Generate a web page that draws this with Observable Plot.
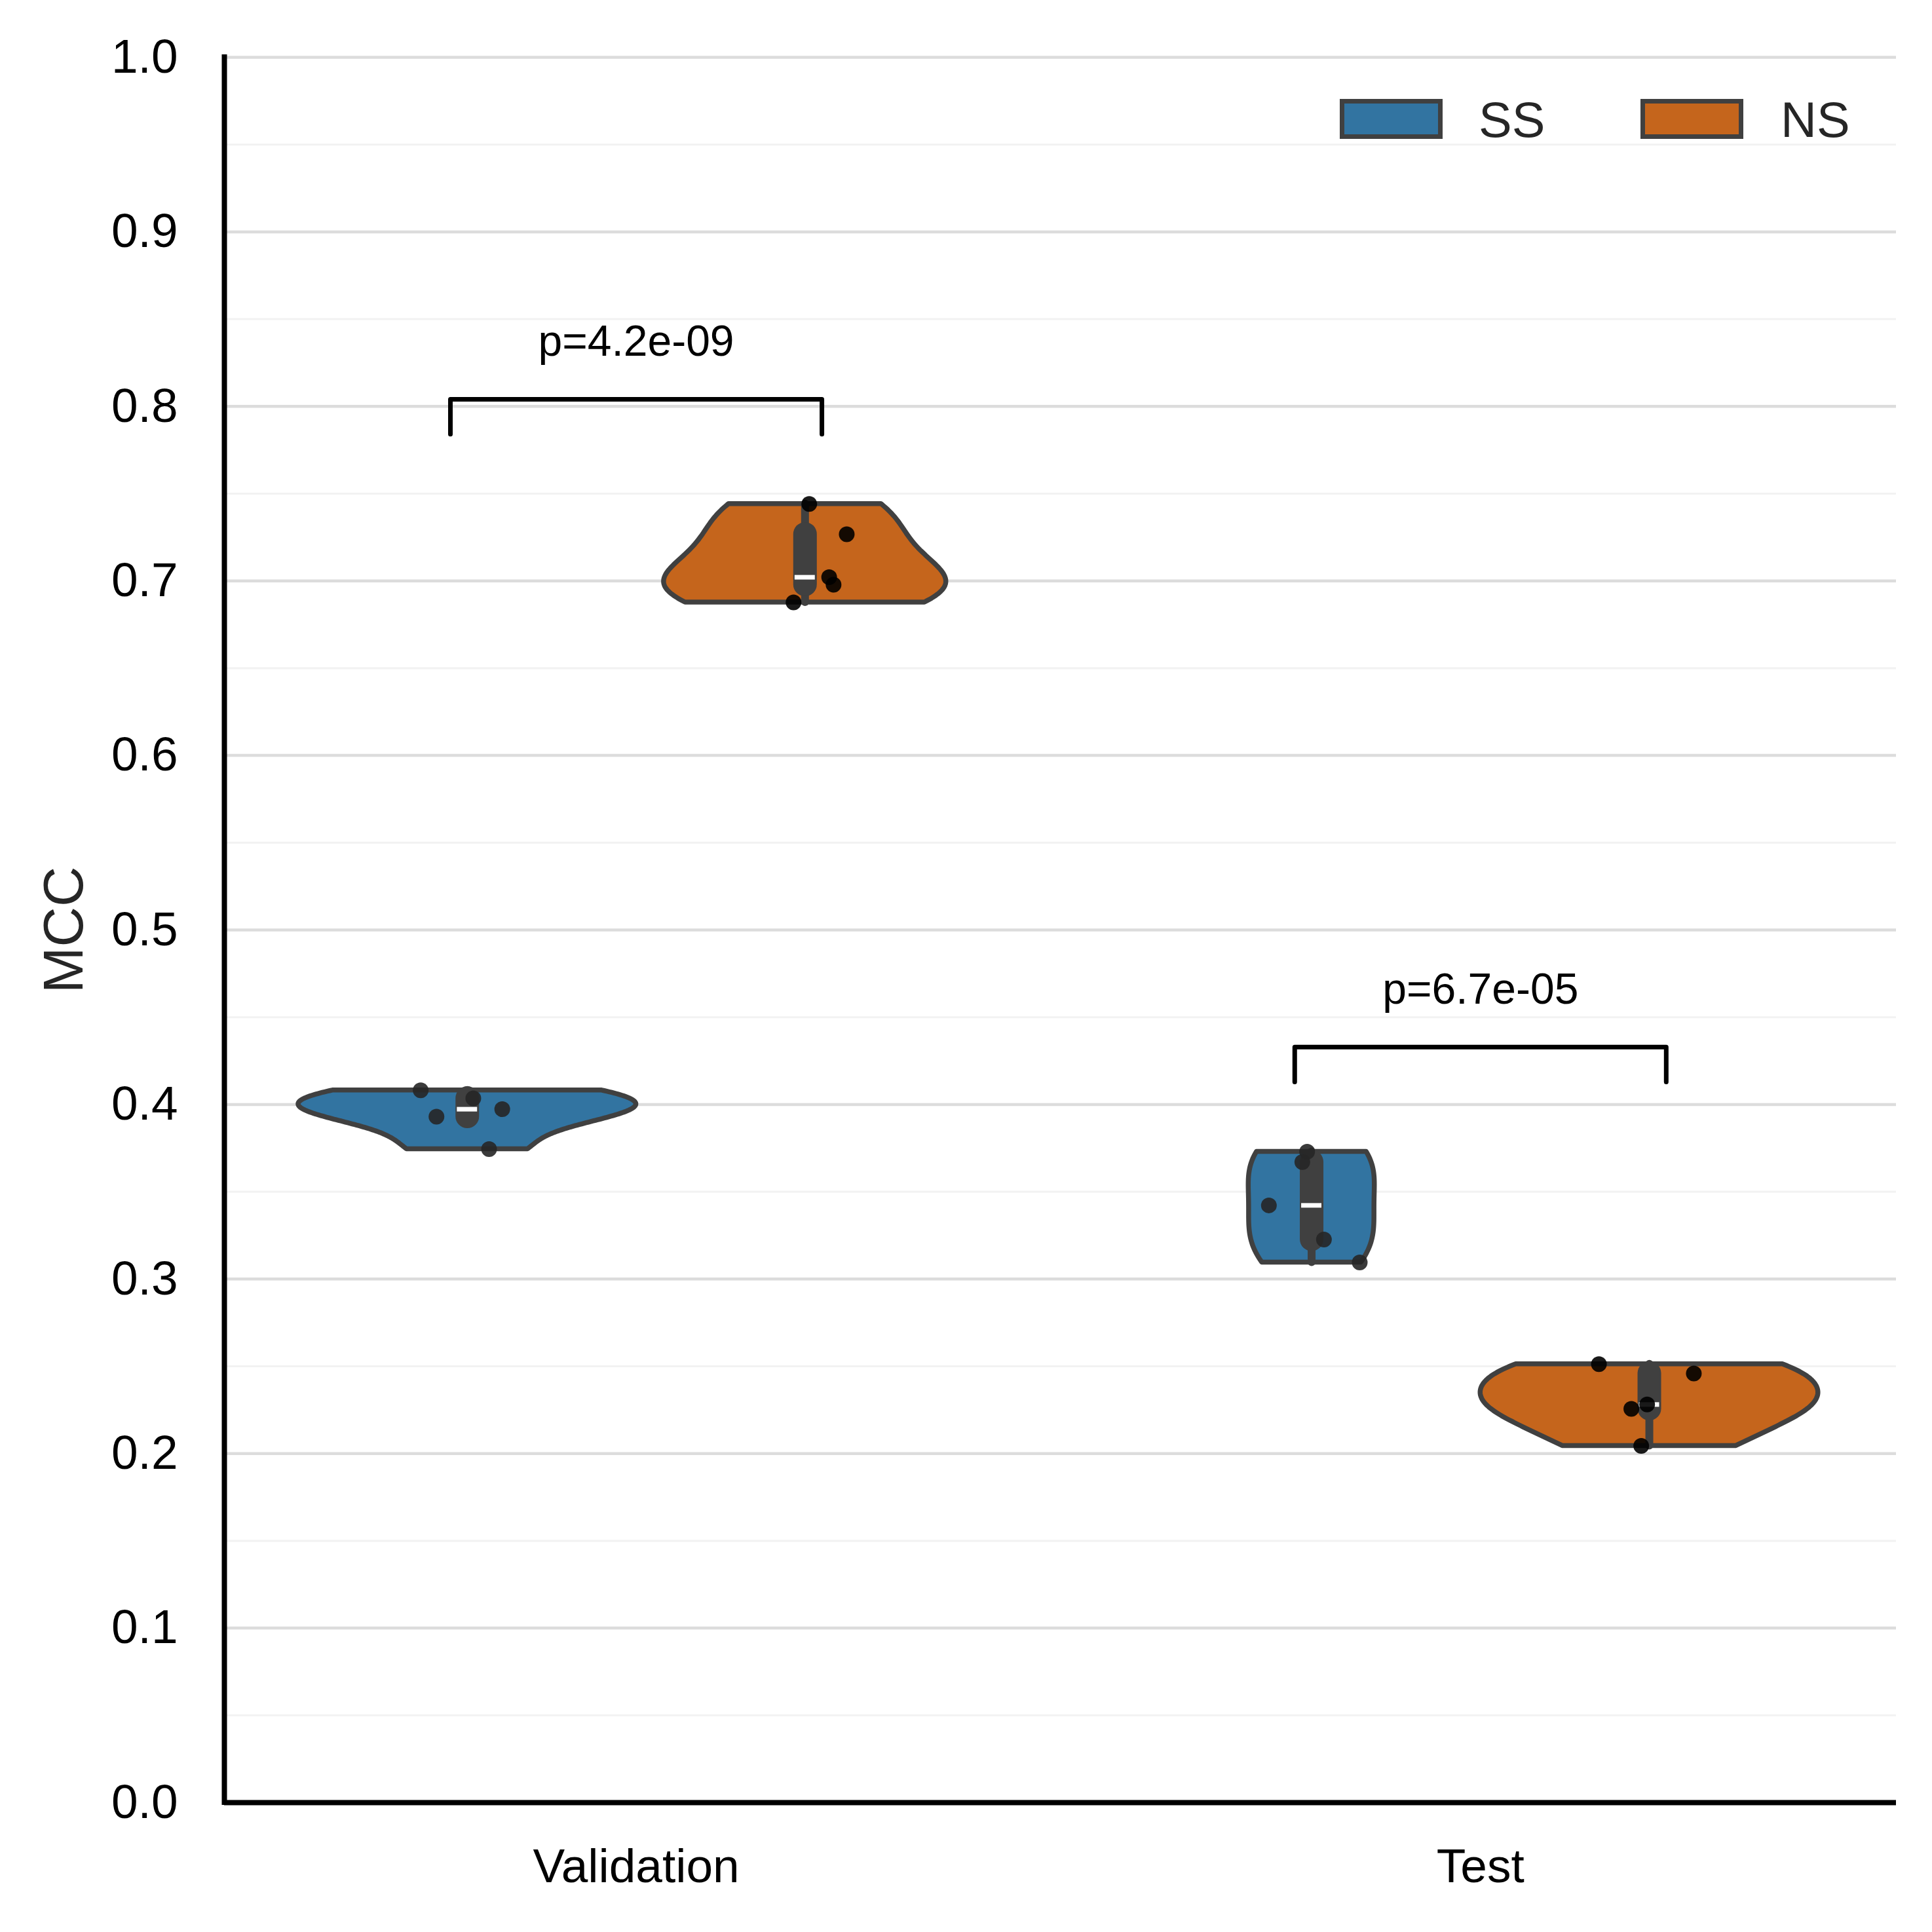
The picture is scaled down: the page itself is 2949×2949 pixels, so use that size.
<!DOCTYPE html>
<html>
<head>
<meta charset="utf-8">
<script src="https://cdn.jsdelivr.net/npm/d3@7"></script>
<script src="https://cdn.jsdelivr.net/npm/@observablehq/plot@0.6"></script>
<style>
  body { margin: 0; background: #fff; }
  #chart { position: relative; width: 2949px; height: 2949px; font-family: "Liberation Sans", Arial, Helvetica, sans-serif; }
  #chart svg { display: block; }
  .swatch { position: absolute; box-sizing: border-box; border: 7.5px solid #404040; width: 157px; height: 61px; }
  .legend-label { position: absolute; font-size: 76px; line-height: 76px; color: #262626; white-space: nowrap; }
</style>
</head>
<body>
<div id="chart"></div>
<script>
// Categories and hue groups
const categories = ["Validation", "Test"];
const groups = ["SS", "NS"];
const groupColors = ["#3274a1", "#c5651c"];
const pointColors = ["#262626", "#000000"];

// MCC of each run
const validationSS = [0.4081, 0.3930, 0.4035, 0.3973, 0.3744];
const validationNS = [0.7441, 0.7267, 0.7021, 0.6978, 0.6877];
const testSS = [0.3729, 0.3670, 0.3422, 0.3226, 0.3095];
const testNS = [0.2512, 0.2459, 0.2256, 0.2281, 0.2044];

// Horizontal strip jitter of each run (category units)
const jitterValidationSS = [-0.0552, -0.0365, 0.0071, 0.0414, 0.0258];
const jitterValidationNS = [0.0050, 0.0494, 0.0286, 0.0338, -0.0136];
const jitterTestSS = [-0.0053, -0.0110, -0.0506, 0.0146, 0.0570];
const jitterTestNS = [-0.0597, 0.0527, -0.0213, -0.0026, -0.0096];

// Significance annotations, one per category
const pLabels = ["p=4.2e-09", "p=6.7e-05"];

// Y axis ticks
const yTicks = [0.0, 0.1, 0.2, 0.3, 0.4, 0.5, 0.6, 0.7, 0.8, 0.9, 1.0];
const yMinorTicks = [0.05, 0.15, 0.25, 0.35, 0.45, 0.55, 0.65, 0.75, 0.85, 0.95];

// ---- layout constants ----
const W = 2949, H = 2949;
const xDomain = [-0.4877, 1.4925];
const dodge = 0.2;          // hue offset from category centre
const halfViolin = 0.2;     // max half-width of a violin
const bracketHalf = 0.22;
const medianHalf = 0.012;

const series = [
  {cat: 0, g: 0, values: validationSS, jitter: jitterValidationSS},
  {cat: 0, g: 1, values: validationNS, jitter: jitterValidationNS},
  {cat: 1, g: 0, values: testSS, jitter: jitterTestSS},
  {cat: 1, g: 1, values: testNS, jitter: jitterTestNS}
].map((s, i) => ({...s, key: i, group: groups[s.g], cx: s.cat + (s.g === 0 ? -dodge : dodge)}));

// Gaussian KDE (Scott bandwidth), evaluated between the data extremes
function kde(values, n = 100) {
  const bw = d3.deviation(values) * Math.pow(values.length, -1 / 5);
  const [lo, hi] = d3.extent(values);
  const k = 1 / (bw * Math.sqrt(2 * Math.PI));
  return d3.range(n).map(i => {
    const y = lo + (hi - lo) * i / (n - 1);
    const d = d3.mean(values, v => k * Math.exp(-0.5 * ((y - v) / bw) ** 2));
    return {y, d};
  });
}
series.forEach(s => { s.kde = kde(s.values); s.maxD = d3.max(s.kde, p => p.d); });
// area normalisation within each hue group
const groupMax = groups.map((_, g) => d3.max(series.filter(s => s.g === g), s => s.maxD));

const violinRows = series.flatMap(s => s.kde.map(p => {
  const hw = p.d / groupMax[s.g] * halfViolin;
  return {key: s.key, group: s.group, y: p.y, x1: s.cx - hw, x2: s.cx + hw};
}));

// Box statistics
const boxStats = series.map(s => {
  const v = [...s.values].sort(d3.ascending);
  const q1 = d3.quantile(v, 0.25), q3 = d3.quantile(v, 0.75), med = d3.quantile(v, 0.5);
  const iqr = q3 - q1;
  const whislo = d3.min(v.filter(x => x >= q1 - 1.5 * iqr));
  const whishi = d3.max(v.filter(x => x <= q3 + 1.5 * iqr));
  return {cx: s.cx, q1, q3, med, whislo, whishi};
});

const points = series.flatMap(s => s.values.map((v, i) => ({g: s.g, x: s.cx + s.jitter[i], y: v})));

// Brackets above each category
const brackets = categories.map((c, i) => {
  const top = d3.max(series.filter(s => s.cat === i).flatMap(s => s.values)) + 0.06;
  return {cat: i, top, label: pLabels[i]};
});
const bracketPath = brackets.flatMap(b => [
  {z: b.cat, x: b.cat - bracketHalf, y: b.top - 0.02},
  {z: b.cat, x: b.cat - bracketHalf, y: b.top},
  {z: b.cat, x: b.cat + bracketHalf, y: b.top},
  {z: b.cat, x: b.cat + bracketHalf, y: b.top - 0.02}
]);

const plot = Plot.plot({
  width: W,
  height: H,
  marginLeft: 342,
  marginRight: 55,
  marginTop: 87,
  marginBottom: 198,
  style: {fontFamily: '"Liberation Sans", Arial, Helvetica, sans-serif', background: "white", color: "black", overflow: "visible"},
  x: {type: "linear", domain: xDomain},
  y: {domain: [0, 1]},
  color: {domain: groups, range: groupColors},
  marks: [
    Plot.ruleY(yMinorTicks, {stroke: "#f2f2f2", strokeWidth: 3}),
    Plot.ruleY(yTicks, {stroke: "#dcdcdc", strokeWidth: 4.5}),
    Plot.areaX(violinRows, {y: "y", x1: "x1", x2: "x2", z: "key", fill: "group", stroke: "#404040", strokeWidth: 7.5, curve: "linear"}),
    Plot.ruleX(boxStats, {x: "cx", y1: "whislo", y2: "whishi", stroke: "#404040", strokeWidth: 12, strokeLinecap: "round"}),
    Plot.ruleX(boxStats, {x: "cx", y1: "q1", y2: "q3", stroke: "#404040", strokeWidth: 36, strokeLinecap: "round"}),
    Plot.ruleY(boxStats, {y: "med", x1: d => d.cx - medianHalf, x2: d => d.cx + medianHalf, stroke: "white", strokeWidth: 7}),
    ...groups.map((_, g) => Plot.dot(points.filter(p => p.g === g), {x: "x", y: "y", r: 12, fill: pointColors[g], fillOpacity: 0.9, stroke: "none"})),
    Plot.line(bracketPath, {x: "x", y: "y", z: "z", stroke: "black", strokeWidth: 7, curve: "linear"}),
    Plot.text(brackets, {x: "cat", y: d => d.top + 0.025, text: "label", fontSize: 66, fill: "black", textAnchor: "middle", lineAnchor: "bottom"}),
    Plot.ruleX([xDomain[0]], {y1: 0, y2: 1, stroke: "black", strokeWidth: 8, strokeLinecap: "square"}),
    Plot.ruleY([0], {x1: xDomain[0], x2: xDomain[1], stroke: "black", strokeWidth: 8}),
    Plot.axisY(yTicks, {tickSize: 0, tickPadding: 71, fontSize: 73, tickFormat: d3.format(".1f"), label: null, fill: "black"}),
    Plot.axisX([0, 1], {tickSize: 0, tickPadding: 70, fontSize: 73, tickFormat: i => categories[i], label: null, fill: "black"}),
    Plot.text(["MCC"], {frameAnchor: "left", dx: -217, rotate: -90, lineAnchor: "bottom", textAnchor: "middle", fontSize: 85, fill: "#262626"})
  ]
});

const chart = document.getElementById("chart");
chart.appendChild(plot);

// Legend (upper right, two columns)
const legendItems = [
  {swatchLeft: 2045, labelLeft: 2257},
  {swatchLeft: 2504, labelLeft: 2718}
];
groups.forEach((g, i) => {
  const sw = document.createElement("div");
  sw.className = "swatch";
  sw.style.left = legendItems[i].swatchLeft + "px";
  sw.style.top = "151px";
  sw.style.background = groupColors[i];
  chart.appendChild(sw);
  const lab = document.createElement("div");
  lab.className = "legend-label";
  lab.style.left = legendItems[i].labelLeft + "px";
  lab.style.top = "145px";
  lab.textContent = g;
  chart.appendChild(lab);
});
</script>
</body>
</html>
